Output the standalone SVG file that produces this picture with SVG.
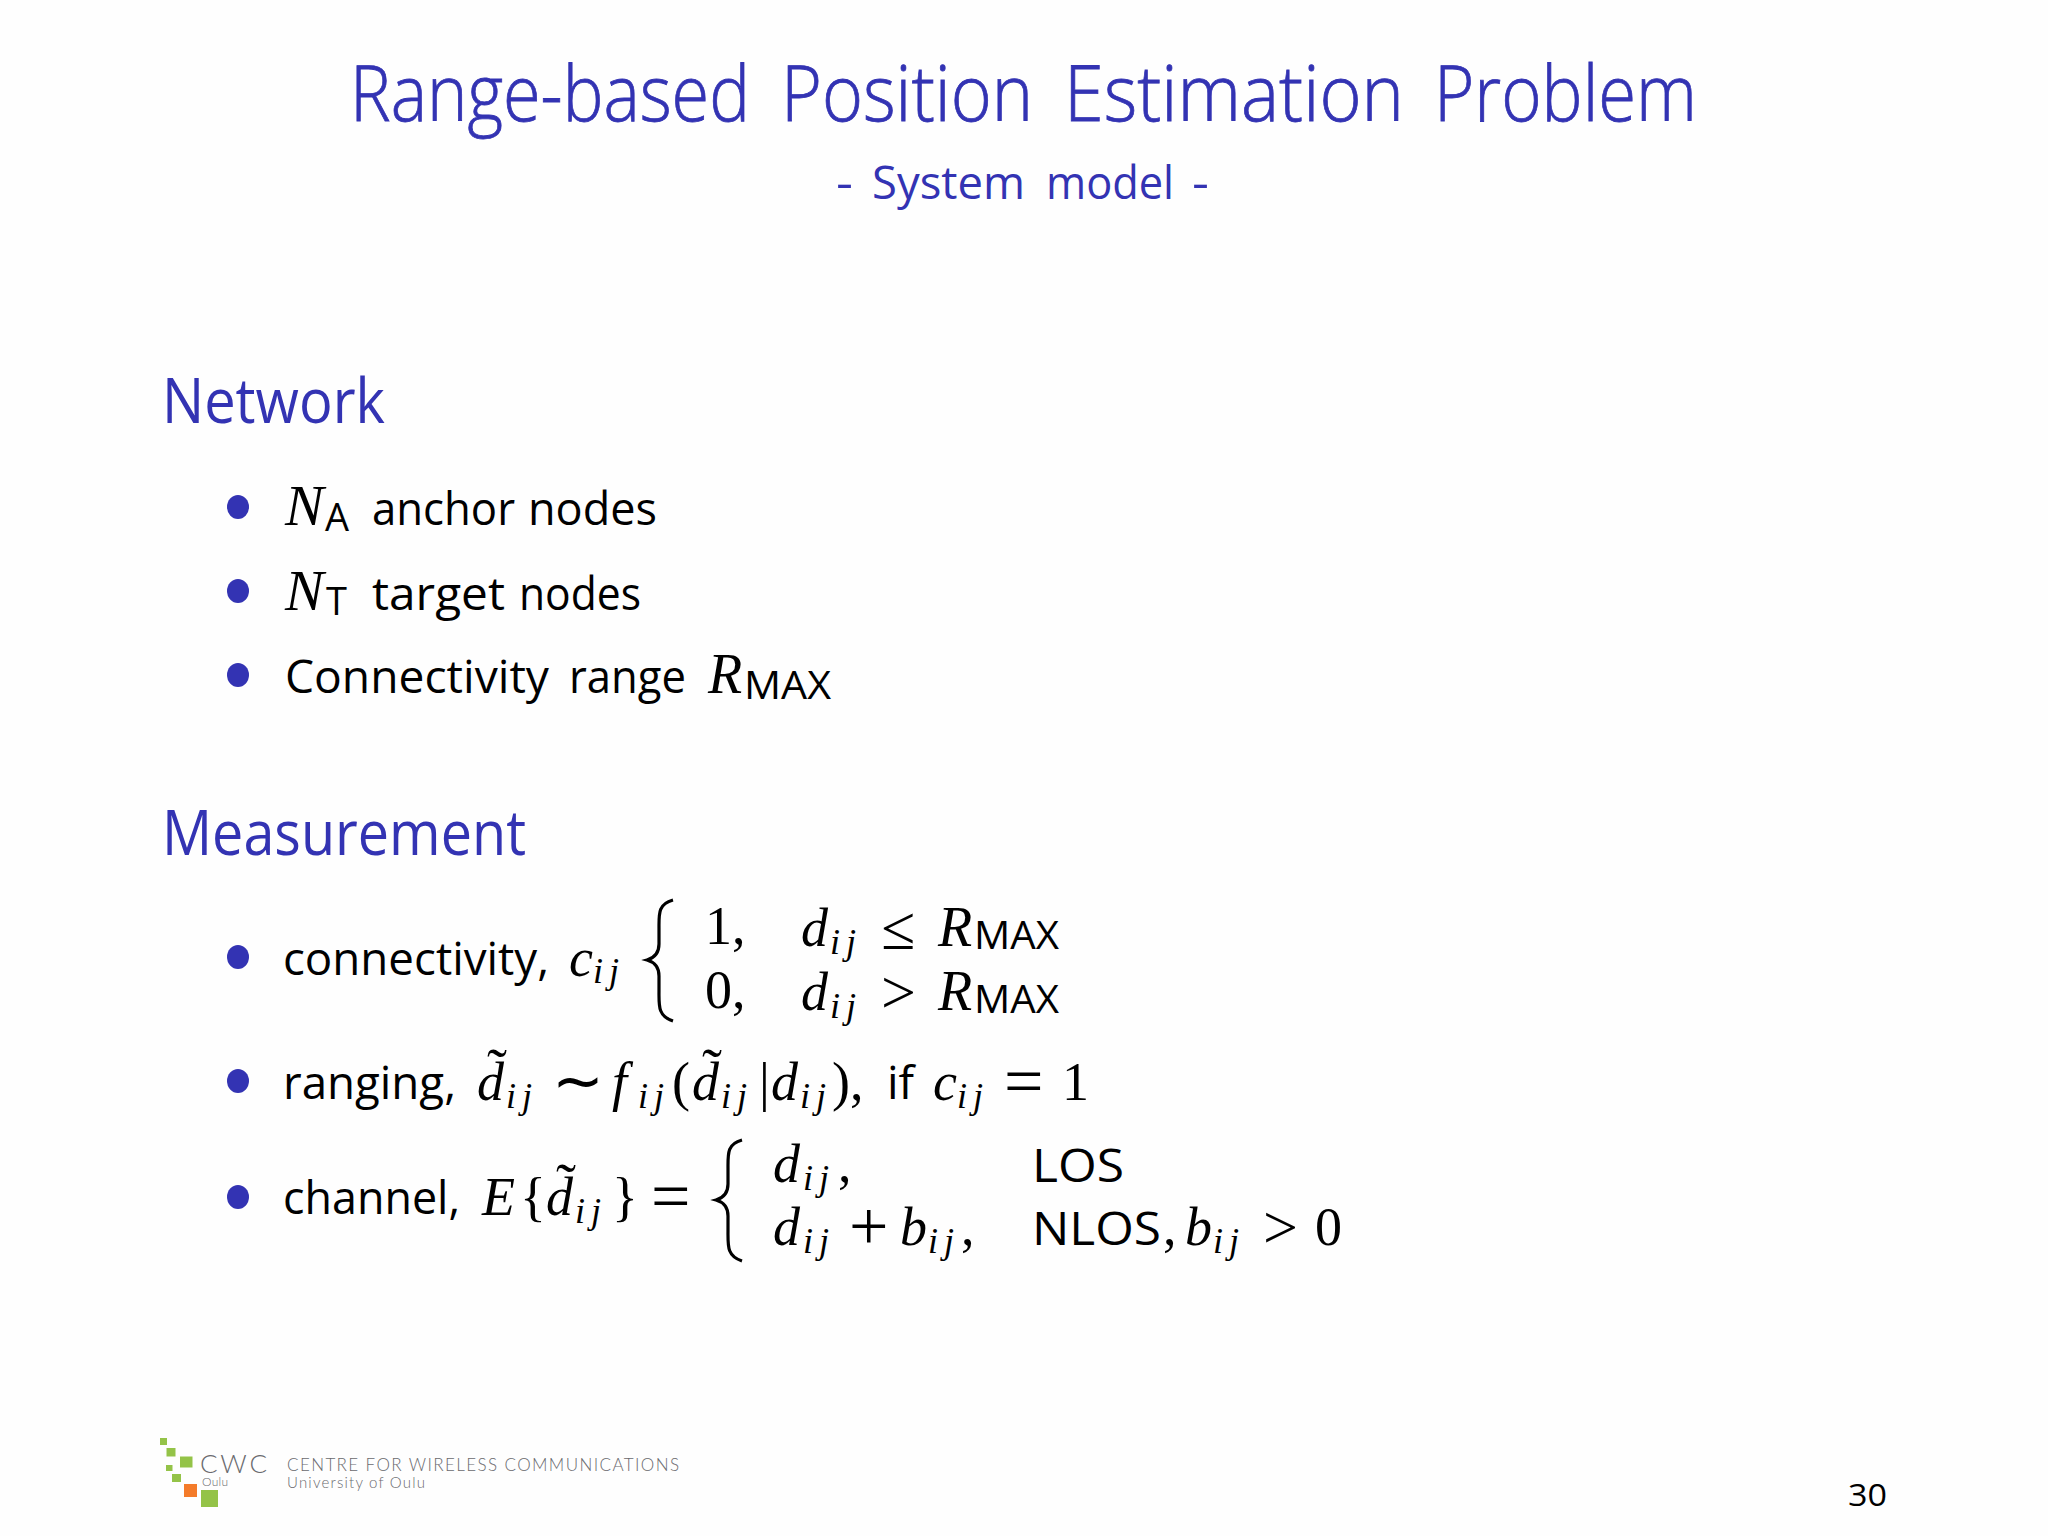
<svg xmlns="http://www.w3.org/2000/svg" width="2048" height="1536" viewBox="0 0 2048 1536">
<style>
text{white-space:pre}
.h{font-family:"Open Sans","Liberation Sans",sans-serif;fill:#3333b3;font-weight:400}
.tt{font-weight:300;stroke:#3333b3;stroke-width:.8px}
.s{font-family:"Open Sans","Liberation Sans",sans-serif;fill:#000;font-size:46px}
.m{font-family:"Liberation Serif",serif;font-style:italic;fill:#000;font-size:54px}
.r{font-family:"Liberation Serif",serif;fill:#000;font-size:54px}
.o{font-family:"Liberation Serif",serif;fill:#000;font-size:70px;font-weight:300}
.c{font-family:"Liberation Serif",serif;fill:#000;font-size:62px}
.t{font-family:"Liberation Serif",serif;fill:#000;font-size:60px}
.i{font-family:"Liberation Serif",serif;font-style:italic;fill:#000;font-size:36px;letter-spacing:6px}
.u{font-family:"Open Sans","Liberation Sans",sans-serif;fill:#000;font-size:38px}
.b{fill:#3333b3}
.br{fill:none;stroke:#000;stroke-width:3.2}
.g{fill:#94c348}
.l{font-family:"Lato","Open Sans",sans-serif;fill:#6a6a6e;font-weight:300}
</style>
<rect width="2048" height="1536" fill="#fefefe"/>
<g id="title">
<text class="h tt" x="350" y="121" font-size="78" textLength="400" lengthAdjust="spacingAndGlyphs">Range-based</text>
<text class="h tt" x="781" y="121" font-size="78" textLength="252" lengthAdjust="spacingAndGlyphs">Position</text>
<text class="h tt" x="1064" y="121" font-size="78" textLength="340" lengthAdjust="spacingAndGlyphs">Estimation</text>
<text class="h tt" x="1434" y="121" font-size="78" textLength="263" lengthAdjust="spacingAndGlyphs">Problem</text>
<text class="h" x="836" y="199" font-size="46" textLength="17" lengthAdjust="spacingAndGlyphs">-</text>
<text class="h" x="872" y="199" font-size="46" textLength="153" lengthAdjust="spacingAndGlyphs">System</text>
<text class="h" x="1046" y="199" font-size="46" textLength="128" lengthAdjust="spacingAndGlyphs">model</text>
<text class="h" x="1192" y="199" font-size="46" textLength="17" lengthAdjust="spacingAndGlyphs">-</text>
</g>
<g id="network">
<text class="h" x="162" y="423" font-size="62" textLength="223" lengthAdjust="spacingAndGlyphs">Network</text>
<ellipse class="b" cx="238" cy="507" rx="11" ry="12"/>
<ellipse class="b" cx="238" cy="591" rx="11" ry="12"/>
<ellipse class="b" cx="238" cy="675" rx="11" ry="12"/>
<text class="m" x="285" y="525" style="font-size:58px">N</text>
<text class="u" x="325" y="531">A</text>
<text class="s" x="372" y="525" textLength="143" lengthAdjust="spacingAndGlyphs">anchor</text>
<text class="s" x="528" y="525" textLength="129" lengthAdjust="spacingAndGlyphs">nodes</text>
<text class="m" x="285" y="610" style="font-size:58px">N</text>
<text class="u" x="326" y="615">T</text>
<text class="s" x="372" y="610" textLength="133" lengthAdjust="spacingAndGlyphs">target</text>
<text class="s" x="519" y="610" textLength="122" lengthAdjust="spacingAndGlyphs">nodes</text>
<text class="s" x="285" y="693" textLength="264" lengthAdjust="spacingAndGlyphs">Connectivity</text>
<text class="s" x="569" y="693" textLength="117" lengthAdjust="spacingAndGlyphs">range</text>
<text class="m" x="708" y="693" style="font-size:56px">R</text>
<text class="u" x="744" y="699" textLength="87" lengthAdjust="spacingAndGlyphs">MAX</text>
</g>
<g id="measurement">
<text class="h" x="162" y="855" font-size="62" textLength="364" lengthAdjust="spacingAndGlyphs">Measurement</text>
<ellipse class="b" cx="238" cy="957" rx="11" ry="12"/>
<ellipse class="b" cx="238" cy="1081" rx="11" ry="12"/>
<ellipse class="b" cx="238" cy="1197" rx="11" ry="12"/>
</g>
<g id="connectivity">
<text class="s" x="283" y="975" textLength="266" lengthAdjust="spacingAndGlyphs">connectivity,</text>
<text class="m" x="569" y="976">c</text><text class="i" x="593" y="983">ij</text>
<path class="br" d="M673 900C658 904 659 914 659 928L659 944C659 953 654 958 647 960C654 962 659 967 659 976L659 992C659 1006 658 1016 673 1021"/>
<text class="r" x="705" y="944">1,</text>
<text class="m" x="801" y="946">d</text><text class="i" x="830" y="954">ij</text>
<text class="c" x="881" y="949">≤</text>
<text class="m" x="938" y="946" style="font-size:56px">R</text>
<text class="u" x="974" y="949" textLength="85" lengthAdjust="spacingAndGlyphs">MAX</text>
<text class="r" x="705" y="1008">0,</text>
<text class="m" x="801" y="1010">d</text><text class="i" x="830" y="1018">ij</text>
<text class="c" x="881" y="1013">&gt;</text>
<text class="m" x="938" y="1010" style="font-size:56px">R</text>
<text class="u" x="974" y="1013" textLength="85" lengthAdjust="spacingAndGlyphs">MAX</text>
</g>
<g id="ranging">
<text class="s" x="283" y="1099" textLength="173" lengthAdjust="spacingAndGlyphs">ranging,</text>
<text class="t" x="487" y="1089">˜</text><text class="m" x="477" y="1100">d</text><text class="i" x="506" y="1108">ij</text>
<text class="c" x="552" y="1102">∼</text>
<text class="m" x="612" y="1100">f</text><text class="i" x="638" y="1108">ij</text>
<text class="r" x="672" y="1100">(</text>
<text class="t" x="702" y="1089">˜</text><text class="m" x="692" y="1100">d</text><text class="i" x="721" y="1108">ij</text>
<text class="r" x="759" y="1100">|</text>
<text class="m" x="771" y="1100">d</text><text class="i" x="800" y="1108">ij</text>
<text class="r" x="832" y="1100">),</text>
<text class="s" x="887" y="1099">if</text>
<text class="m" x="933" y="1100">c</text><text class="i" x="957" y="1108">ij</text>
<text class="o" x="1004" y="1105">=</text>
<text class="r" x="1062" y="1100">1</text>
</g>
<g id="channel">
<text class="s" x="283" y="1214" textLength="177" lengthAdjust="spacingAndGlyphs">channel,</text>
<text class="m" x="482" y="1215">E</text>
<text class="r" x="520" y="1215">{</text>
<text class="t" x="556" y="1204">˜</text><text class="m" x="546" y="1215">d</text><text class="i" x="575" y="1223">ij</text>
<text class="r" x="612" y="1215">}</text>
<text class="o" x="651" y="1220">=</text>
<path class="br" d="M742 1140C727 1144 728 1154 728 1168L728 1184C728 1193 723 1198 716 1200C723 1202 728 1207 728 1216L728 1232C728 1246 727 1256 742 1261"/>
<text class="m" x="773" y="1182">d</text><text class="i" x="803" y="1190">ij</text>
<text class="r" x="838" y="1182">,</text>
<text class="s" x="1032" y="1182" textLength="92" lengthAdjust="spacingAndGlyphs">LOS</text>
<text class="m" x="773" y="1245">d</text><text class="i" x="803" y="1253">ij</text>
<text class="o" x="849" y="1250">+</text>
<text class="m" x="900" y="1245">b</text><text class="i" x="928" y="1253">ij</text>
<text class="r" x="961" y="1245">,</text>
<text class="s" x="1032" y="1245" textLength="129" lengthAdjust="spacingAndGlyphs">NLOS</text>
<text class="r" x="1163" y="1245">,</text>
<text class="m" x="1185" y="1245">b</text><text class="i" x="1213" y="1253">ij</text>
<text class="c" x="1263" y="1248">&gt;</text>
<text class="r" x="1315" y="1245">0</text>
</g>
<g id="logo">
<rect class="g" x="160" y="1438" width="7" height="7"/>
<rect class="g" x="166.500" y="1448" width="9" height="8.500"/>
<rect class="g" x="180" y="1456.500" width="12.500" height="11"/>
<rect class="g" x="166" y="1465" width="6.500" height="6"/>
<rect class="g" x="172" y="1474" width="9" height="8"/>
<rect x="184" y="1484" width="13" height="13" fill="#f47b2a"/>
<rect class="g" x="201" y="1490" width="17" height="17"/>
<text class="l" x="200" y="1473" font-size="26" textLength="67">CWC</text>
<text class="l" x="202" y="1486" font-size="12" textLength="26">Oulu</text>
<text class="l" x="287" y="1470.500" font-size="17" textLength="392">CENTRE FOR WIRELESS COMMUNICATIONS</text>
<text class="l" x="287" y="1488" font-size="15" textLength="138">University of Oulu</text>
</g>
<text id="page" x="1848" y="1506" font-family="Open Sans,sans-serif" font-size="31" textLength="39" lengthAdjust="spacingAndGlyphs" fill="#000">30</text>
</svg>
